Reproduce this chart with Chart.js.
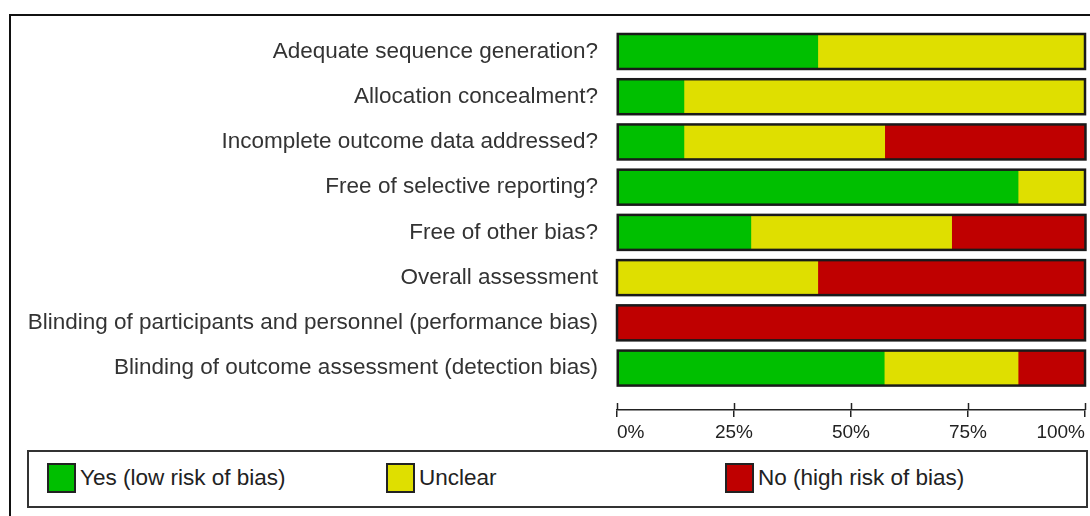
<!DOCTYPE html>
<html>
<head>
<meta charset="utf-8">
<script src="https://cdn.jsdelivr.net/npm/chart.js@4"></script>
<style>
    html, body { margin: 0; padding: 0; background: #fff; }
    body { width: 1090px; height: 516px; position: relative; overflow: hidden; font-family: "Liberation Sans", Arial, sans-serif; }
    #frame { position: absolute; left: 9px; top: 14px; width: 2000px; height: 2000px; border-left: 2px solid #111; border-top: 2px solid #111; }
    #wrap { position: absolute; left: 0; top: 0; width: 1090px; height: 516px; }
    #legend { position: absolute; left: 27px; top: 450px; width: 1057px; height: 54px; border: 2px solid #333; background: #fff; }
    .item { position: absolute; top: 11px; height: 30px; font-size: 22.5px; color: #222; line-height: 30px; white-space: nowrap; }
    .swatch { position: absolute; left: 0; top: 0; width: 25px; height: 26px; border: 2px solid #222; }
    .item span { position: absolute; left: 33px; top: 0; }
</style>
</head>
<body>
<div id="frame"></div>
<div id="wrap"><canvas id="rob"></canvas></div>
<div id="legend"></div>
<script>
    // Risk of bias domains (one bar each)
    const categories = [
        'Adequate sequence generation?',
        'Allocation concealment?',
        'Incomplete outcome data addressed?',
        'Free of selective reporting?',
        'Free of other bias?',
        'Overall assessment',
        'Blinding of participants and personnel (performance bias)',
        'Blinding of outcome assessment (detection bias)'
    ];

    // percent of studies per judgement
    const yesValues     = [42.9, 14.3, 14.3, 85.7, 28.6, 0,    0,   57.1];
    const unclearValues = [57.1, 85.7, 42.9, 14.3, 42.9, 42.9, 0,   28.6];
    const noValues      = [0,    0,    42.9, 0,    28.6, 57.1, 100, 14.3];

    const seriesNames = ['Yes (low risk of bias)', 'Unclear', 'No (high risk of bias)'];
    const seriesColors = ['#00bf00', '#dfdf00', '#bf0000'];
    const tickValues = [0, 25, 50, 75, 100];

    const toPoints = arr => arr.map((v, i) => ({ x: v, y: i }));

    // outline around the whole stacked bar, plus upward tick marks on the axis
    const outlinePlugin = {
        id: 'robOutline',
        afterDatasetsDraw: function(chart) {
            const ctx = chart.ctx;
            ctx.save();
            ctx.strokeStyle = '#1a1a1a';
            ctx.lineWidth = 2.5;
            categories.forEach((c, j) => {
                let left = Infinity, right = -Infinity, y = 0, h = 0;
                chart.data.datasets.forEach((d, i) => {
                    const el = chart.getDatasetMeta(i).data[j];
                    left = Math.min(left, el.base, el.x);
                    right = Math.max(right, el.base, el.x);
                    y = el.y;
                    h = el.height;
                });
                ctx.strokeRect(left, y - h / 2, right - left, h);
            });
            ctx.restore();
        },
        afterDraw: function(chart) {
            const ctx = chart.ctx;
            const xs = chart.scales.x;
            ctx.save();
            ctx.strokeStyle = '#222';
            ctx.lineWidth = 1.5;
            tickValues.forEach(v => {
                const px = Math.round(xs.getPixelForValue(v)) + 0.5;
                ctx.beginPath();
                ctx.moveTo(px, xs.top);
                ctx.lineTo(px, xs.top - 7);
                ctx.stroke();
            });
            ctx.restore();
        }
    };

    new Chart(document.getElementById('rob'), {
        type: 'bar',
        data: {
            datasets: [
                { label: seriesNames[0], data: toPoints(yesValues), backgroundColor: seriesColors[0] },
                { label: seriesNames[1], data: toPoints(unclearValues), backgroundColor: seriesColors[1] },
                { label: seriesNames[2], data: toPoints(noValues), backgroundColor: seriesColors[2] }
            ]
        },
        options: {
            indexAxis: 'y',
            responsive: true,
            maintainAspectRatio: false,
            animation: false,
            layout: { padding: { top: 26, right: 5, left: 0, bottom: 0 } },
            datasets: { bar: { barThickness: 35, borderWidth: 0 } },
            plugins: {
                legend: { display: false },
                tooltip: { enabled: false }
            },
            scales: {
                x: {
                    type: 'linear',
                    stacked: true,
                    min: 0,
                    max: 100,
                    afterFit: s => { s.height = 106; },
                    afterBuildTicks: s => { s.ticks = tickValues.map(v => ({ value: v })); },
                    grid: { drawOnChartArea: false, tickLength: 7, color: '#222', lineWidth: 1.5 },
                    border: { color: '#222', width: 1.5 },
                    ticks: {
                        align: 'inner',
                        padding: 4,
                        color: '#222',
                        font: { family: 'Liberation Sans', size: 19 },
                        callback: v => v + '%'
                    }
                },
                y: {
                    type: 'linear',
                    stacked: true,
                    reverse: true,
                    offset: false,
                    min: -0.42,
                    max: 7.927,
                    afterFit: s => { s.width = 617; },
                    afterBuildTicks: s => { s.ticks = categories.map((c, i) => ({ value: i })); },
                    grid: { display: false, drawTicks: false },
                    border: { display: false },
                    ticks: {
                        padding: 19,
                        color: '#333',
                        font: { family: 'Liberation Sans', size: 22.5 },
                        callback: v => categories[v]
                    }
                }
            }
        },
        plugins: [outlinePlugin]
    });

    // legend in three equal columns
    const legendLeft = [18, 357, 696];
    const legend = document.getElementById('legend');
    seriesNames.forEach((name, i) => {
        const item = document.createElement('div');
        item.className = 'item';
        item.style.left = legendLeft[i] + 'px';
        item.innerHTML = '<div class="swatch" style="background:' + seriesColors[i] + '"></div><span>' + name + '</span>';
        legend.appendChild(item);
    });
</script>
</body>
</html>
